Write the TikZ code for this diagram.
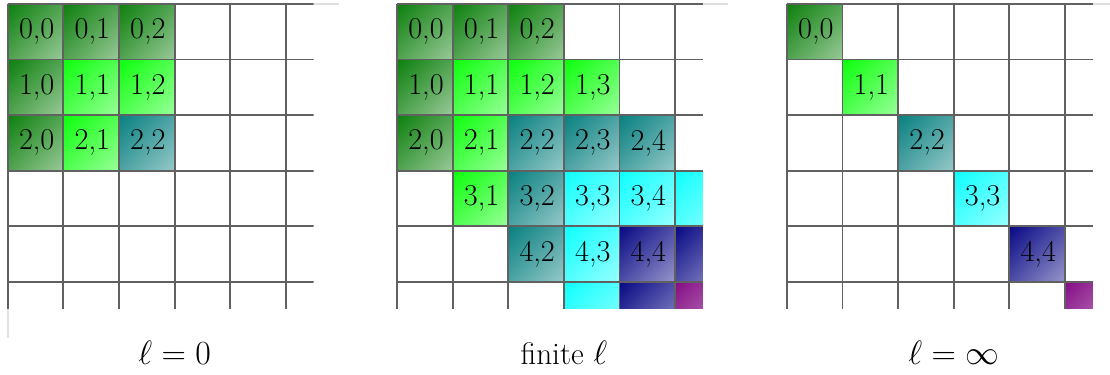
\documentclass[tikz,border=0pt]{standalone}
\usepackage{amsmath,amssymb}
\usepackage{fontspec}
\usetikzlibrary{positioning,shadings}
\definecolor{lvl0}{rgb}{0.05,0.50,0.05}
\definecolor{lvl1}{rgb}{0.05,1.00,0.05}
\definecolor{lvl2}{rgb}{0.03,0.50,0.50}
\definecolor{lvl3}{rgb}{0.05,1.00,1.00}
\definecolor{lvl4}{rgb}{0.03,0.03,0.52}
\definecolor{lvl5}{rgb}{0.52,0.05,0.52}
\tikzset{
  gridline/.style={black!62, line width=1pt},
  faintline/.style={black!12, line width=0.8pt},
  celltext/.style={font=\fontsize{15.5}{17}\selectfont, inner sep=0pt},
  caption/.style={font=\fontsize{16}{19}\selectfont}
}
% shaded cell: row, column, colour
\newcommand{\bandcell}[3]{%
  \shade[upper left=#3, upper right=#3!72!white, lower left=#3!72!white,
         lower right=#3!42!white] (#2,-#1) rectangle ++(1,-1);}

\begin{document}
\begin{tikzpicture}
  \useasboundingbox (0,0) rectangle (19.96,-6.73);
  % l = 0
  \begin{scope}[shift={(0.14,-0.07)}]
    \begin{scope}
      \clip (-0.05,0.05) rectangle (5.5,-5.48);
      \foreach \i in {0,...,2}
        \foreach \j in {0,...,2}{
          \pgfmathtruncatemacro\lv{min(\i,\j)}
          \bandcell{\i}{\j}{lvl\lv}
          \node[celltext] (a-\i-\j) at (\j+0.52,-\i-0.5) {\i,\j};
        }
      \draw[gridline] (0,0) grid (6,-6);
    \end{scope}
    \draw[faintline] (5.5,0) -- (5.95,0);
    \draw[faintline] (0,-5.48) -- (0,-6.0);
    \node[caption] (capa) at (3,-6.28) {$\ell=0$};
  \end{scope}
  % finite l
  \begin{scope}[shift={(7.14,-0.07)}]
    \begin{scope}
      \clip (-0.05,0.05) rectangle (5.5,-5.48);
      \foreach \i in {0,...,5}
        \foreach \j in {0,...,5}{
          \pgfmathtruncatemacro\dd{abs(\i-\j)}
          \ifnum\dd<3
            \pgfmathtruncatemacro\lv{min(\i,\j)}
            \bandcell{\i}{\j}{lvl\lv}
            \ifnum\i<5 \ifnum\j<5
              \node[celltext] (b-\i-\j) at (\j+0.52,-\i-0.5) {\i,\j};
            \fi\fi
          \fi
        }
      \draw[gridline] (0,0) grid (6,-6);
    \end{scope}
    \draw[faintline] (5.5,0) -- (5.95,0);
    \node[caption] (capb) at (3,-6.28) {finite $\ell$};
  \end{scope}
  % l = infinity
  \begin{scope}[shift={(14.15,-0.07)}]
    \begin{scope}
      \clip (-0.05,0.05) rectangle (5.5,-5.48);
      \foreach \i in {0,...,5}{
        \bandcell{\i}{\i}{lvl\i}
        \ifnum\i<5
          \node[celltext] (c-\i-\i) at (\i+0.52,-\i-0.5) {\i,\i};
        \fi
      }
      \draw[gridline] (0,0) grid (6,-6);
    \end{scope}
    \draw[faintline] (5.5,0) -- (5.95,0);
    \node[caption] (capc) at (3,-6.28) {$\ell=\infty$};
  \end{scope}
\end{tikzpicture}
\end{document}
